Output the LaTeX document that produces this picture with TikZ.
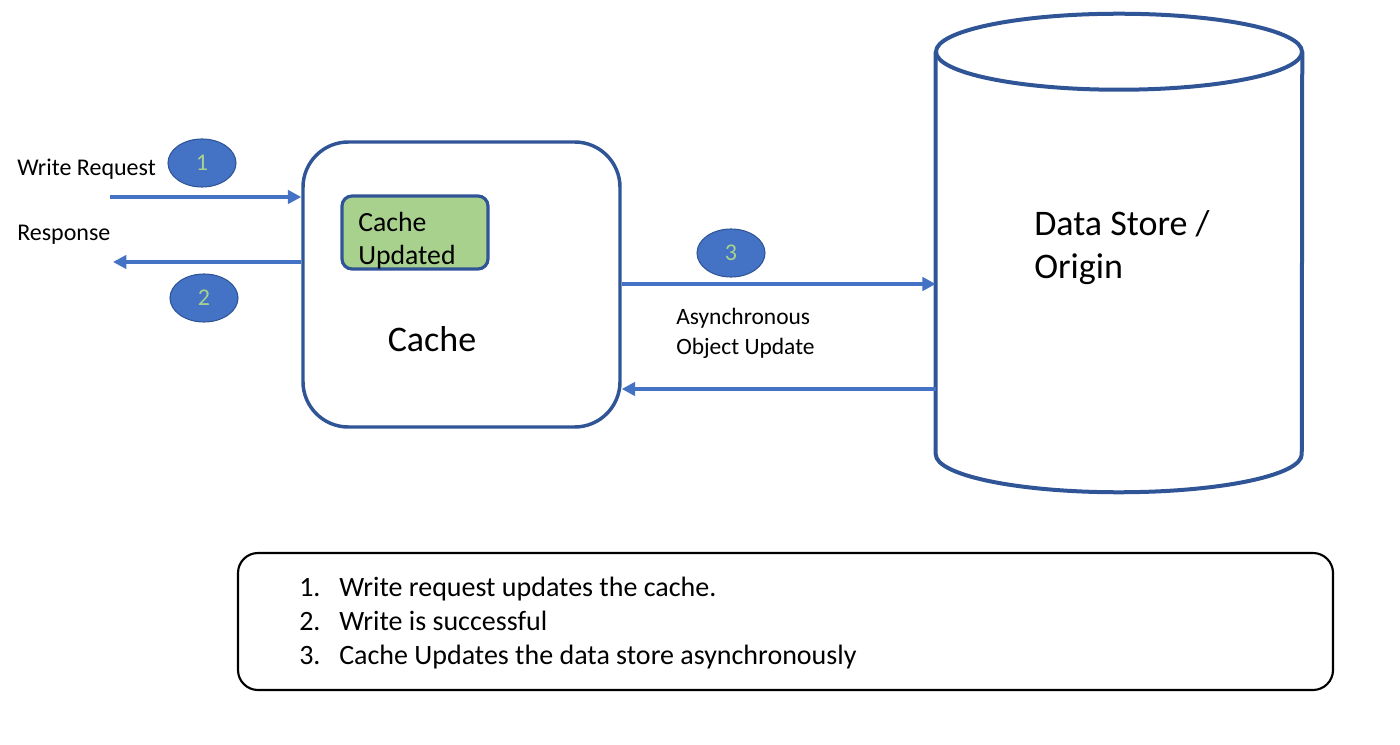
\documentclass[tikz,border=0pt]{standalone}
\usepackage{fontspec}
\setmainfont{Carlito}
\usetikzlibrary{arrows.meta,shapes.geometric}
\definecolor{dblue}{HTML}{2F5597}
\definecolor{mblue}{HTML}{4472C4}
\definecolor{lgreen}{HTML}{A9D18E}
\tikzset{
  px/.style={x=0.75pt,y=-0.75pt},
  arr/.style={draw=mblue,line width=2.6pt,-{Triangle[length=10pt,width=10pt]}},
  numell/.style={ellipse,draw=dblue,line width=0.8pt,fill=mblue,minimum width=51pt,minimum height=36pt,inner sep=0pt,text=lgreen,font=\fontsize{18}{20}\selectfont},
  plain/.style={inner sep=0pt,anchor=west,align=left},
}
\begin{document}
\begin{tikzpicture}[px]
\useasboundingbox (0,0) rectangle (1400,745);
% cache box
\node[draw=dblue,line width=2.6pt,rounded corners=34pt,minimum width=237.75pt,minimum height=213.75pt,inner sep=0pt] (cache) at (461.5,284.5) {};
\node[draw=dblue,line width=2.4pt,fill=lgreen,rounded corners=7.5pt,minimum width=109.5pt,minimum height=54.75pt,inner sep=0pt] (upd) at (415,232.5) {};
\node[plain,font=\fontsize{20.8}{24.75}\selectfont] (updtext) at (358,240.5) {Cache\\Updated};
\node[inner sep=0pt,font=\fontsize{27}{32}\selectfont] (cachelbl) at (432,339) {Cache};
% data store
\node[minimum width=274.5pt,minimum height=301.5pt,inner sep=0pt] (ds) at (1119,253) {};
\draw[dblue,line width=3pt] (ds.north) ellipse [x radius=183,y radius=38];
\draw[dblue,line width=3pt] (ds.north west) -- (ds.south west) arc[start angle=180,end angle=0,x radius=183,y radius=38] -- (ds.north east);
\node[plain,font=\fontsize{27}{32.25}\selectfont] (dslbl) at (1034,248) {Data Store /\\Origin};
% left side
\node[plain,font=\fontsize{18}{20}\selectfont] (wr) at (17,169) {Write Request};
\node[plain,font=\fontsize{18}{20}\selectfont] (resp) at (17,235) {Response};
\node[numell] (n1) at (202,163) {1};
\node[numell] (n2) at (204,298) {2};
\node[numell] (n3) at (731,253) {3};
\coordinate (wrstart) at (110,197);
\coordinate (respend) at (113,262);
\draw[arr] (wrstart) -- (cache.west |- wrstart);
\draw[arr] (cache.west |- respend) -- (respend);
\coordinate (y3) at (0,284);
\coordinate (y4) at (0,389);
\draw[arr] (cache.east |- y3) -- (ds.west |- y3);
\draw[arr] (ds.west |- y4) -- (cache.east |- y4);
\node[plain,font=\fontsize{17.6}{22.5}\selectfont] (async) at (676,333) {Asynchronous\\Object Update};
% bottom box
\node[draw=black,line width=1.6pt,rounded corners=15pt,minimum width=821.25pt,minimum height=102.75pt,inner sep=0pt] (notes) at (785.5,621.5) {};
\node[plain,font=\fontsize{21}{25.5}\selectfont] (list) at (299,623) {\makebox[30pt][l]{1.}Write request updates the cache.\\\makebox[30pt][l]{2.}Write is successful\\\makebox[30pt][l]{3.}Cache Updates the data store asynchronously};
\end{tikzpicture}
\end{document}
